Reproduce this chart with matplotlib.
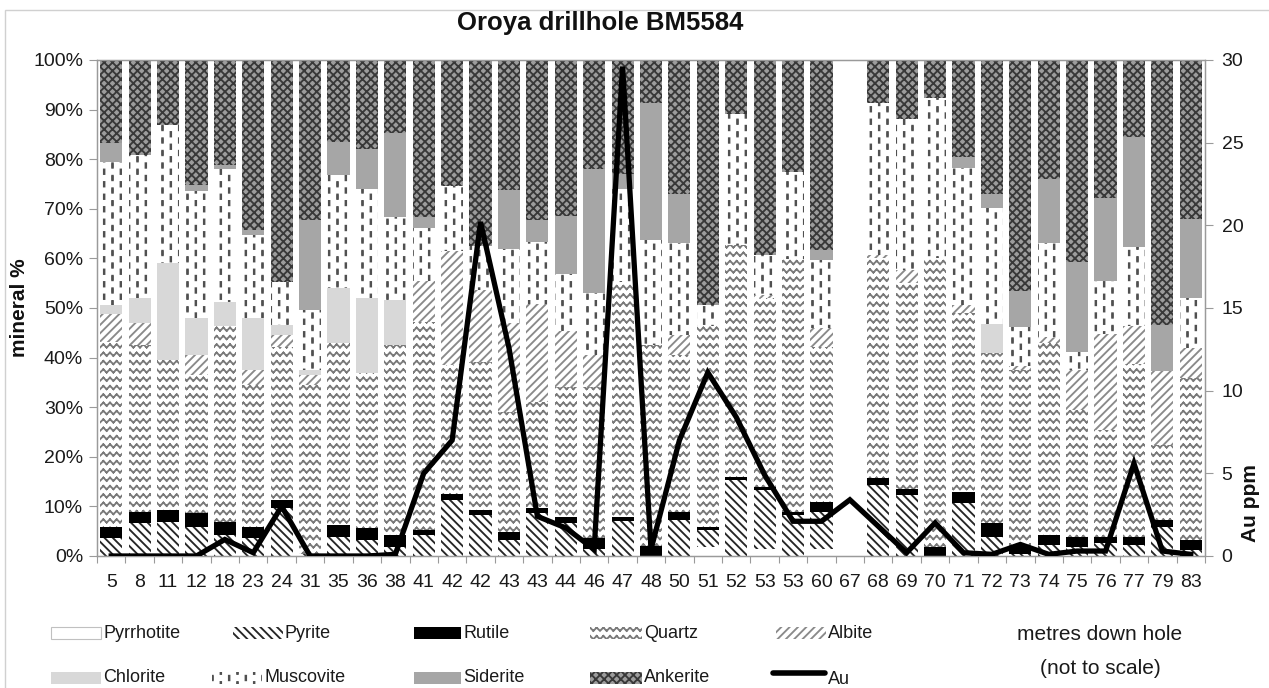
import warnings
warnings.filterwarnings("ignore")
import numpy as np
import matplotlib
matplotlib.use("Agg")
import matplotlib.pyplot as plt
from matplotlib.patches import Rectangle
from matplotlib.lines import Line2D
from matplotlib.path import Path
import matplotlib.hatch as mhatch

# ---------------- data ----------------
depths = ['5', '8', '11', '12', '18', '23', '24', '31', '35', '36', '38', '41', '42', '42',
          '43', '43', '44', '46', '47', '48', '50', '51', '52', '53', '53', '60', '67', '68',
          '69', '70', '71', '72', '73', '74', '75', '76', '77', '79', '83']

pyrrhotite = [0, 0, 0, 0, 0, 0, 0, 0, 0, 0, 0, 0, 0, 0,
              0, 0, 0, 0, 0, 0, 0, 1.9, 0, 1.5, 0, 1.5, 0, 0,
              0, 0, 0, 0, 0, 0, 0, 0, 0, 0, 0]
pyrite = [3.6, 6.6, 6.9, 5.9, 4.2, 3.6, 9.6, 0.5, 3.9, 3.2, 1.9, 4.2, 11.3, 8.3,
          3.2, 8.6, 6.6, 1.5, 7.1, 0, 7.3, 3.3, 15.3, 11.9, 8.3, 7.4, 0, 14.3,
          12.3, 0, 10.6, 3.9, 0.5, 2.2, 1.9, 2.6, 2.2, 5.9, 1.2]
rutile = [2.3, 2.3, 2.4, 2.7, 2.7, 2.3, 1.7, 0, 2.4, 2.4, 2.3, 1.0, 1.3, 1.0,
          1.7, 1.0, 1.3, 2.1, 0.8, 2.0, 1.6, 0.7, 0.7, 0.6, 0.6, 2.0, 0, 1.4,
          1.3, 1.9, 2.4, 2.7, 1.4, 2.0, 1.9, 1.3, 1.7, 1.4, 2.0]
quartz = [37.3, 33.6, 30.2, 27.9, 39.5, 28.6, 30.9, 34.0, 36.6, 31.2, 38.3, 42.0, 25.9, 29.9,
          24.2, 21.5, 26.1, 30.5, 47.4, 40.5, 31.6, 40.5, 46.7, 38.0, 50.9, 31.3, 0, 44.3,
          41.4, 58.1, 35.9, 34.4, 35.7, 38.7, 25.6, 21.5, 34.9, 15.1, 32.6]
albite = [5.5, 4.4, 0, 4.0, 0, 3.0, 2.4, 2.0, 0, 0, 0, 8.3, 22.9, 14.4,
          17.8, 19.7, 11.4, 6.4, 0, 0, 4.1, 0, 0, 0.6, 0, 3.7, 0, 0.7,
          2.7, 0, 1.7, 0, 0.7, 1.0, 8.0, 19.4, 7.6, 14.8, 6.1]
chlorite = [1.9, 5.2, 19.5, 7.4, 4.9, 10.4, 2.0, 1.0, 11.1, 15.2, 9.1, 0, 0, 0,
            0, 0, 0, 0, 0, 0, 0, 0, 0, 0, 0, 0, 0, 0,
            0, 0, 0, 5.8, 0, 0, 0, 0, 0, 0, 0]
muscovite = [28.9, 28.7, 27.9, 25.6, 26.7, 16.8, 8.7, 12.1, 22.8, 21.9, 16.8, 10.6, 13.1, 8.8,
             14.9, 12.6, 11.5, 12.6, 18.7, 21.2, 18.6, 4.2, 26.5, 8.1, 17.7, 13.8, 0, 30.6,
             30.5, 32.3, 27.6, 23.3, 7.8, 19.3, 3.8, 10.7, 15.8, 0, 10.1]
siderite = [3.7, 0, 0, 1.3, 0.8, 1.0, 0, 18.1, 6.7, 8.1, 16.8, 2.3, 0, 0,
            12.0, 4.3, 11.6, 24.9, 3.0, 27.6, 9.8, 0, 0, 0, 0, 2.0, 0, 0,
            0, 0, 2.2, 2.9, 7.4, 12.9, 18.1, 16.6, 22.2, 9.4, 15.9]
ankerite = [16.8, 19.2, 13.1, 25.2, 21.2, 34.3, 44.7, 32.3, 16.5, 18.0, 14.8, 31.6, 25.5, 37.6,
            26.2, 32.3, 31.5, 22.0, 23.0, 8.7, 27.0, 49.4, 10.8, 39.3, 22.5, 38.3, 0, 8.7,
            11.8, 7.7, 19.6, 27.0, 46.5, 23.9, 40.7, 27.9, 15.6, 53.4, 32.1]
au_ppm = [0, 0, 0, 0, 1.0, 0.2, 3.0, 0, 0, 0, 0.1, 5.0, 7.0, 20.2,
          12.6, 2.4, 1.7, 0.4, 29.6, 0.4, 7.0, 11.1, 8.4, 4.9, 2.1, 2.1, 3.4, 1.8,
          0.2, 2.0, 0.2, 0.1, 0.7, 0.1, 0.3, 0.3, 5.6, 0.3, 0.1]

minerals = ['Pyrrhotite', 'Pyrite', 'Rutile', 'Quartz', 'Albite',
            'Chlorite', 'Muscovite', 'Siderite', 'Ankerite']
series = [pyrrhotite, pyrite, rutile, quartz, albite, chlorite, muscovite, siderite, ankerite]


# ---------------- custom hatches (zigzag and short dashes) ----------------
class ZigZagHatch(mhatch.HatchPatternBase):
    def __init__(self, hatch, density):
        n = hatch.count('z')
        self.rows = 12 if n else 0
        self.segs = 30
        self.num_vertices = self.rows * self.segs * 2

    def set_vertices_and_codes(self, vertices, codes):
        amp = 0.032
        xs = np.linspace(0, 1, self.segs + 1)
        k = 0
        for r in range(self.rows):
            y0 = (r + 0.3) / self.rows
            for s in range(self.segs):
                ya = y0 + (amp if s % 2 else 0.0)
                yb = y0 + (0.0 if s % 2 else amp)
                vertices[k] = (xs[s], ya)
                vertices[k + 1] = (xs[s + 1], yb)
                codes[k] = Path.MOVETO
                codes[k + 1] = Path.LINETO
                k += 2


class DashHatch(mhatch.HatchPatternBase):
    def __init__(self, hatch, density):
        n = hatch.count('m')
        self.cols = 12 if n else 0
        self.rows = 8 if n else 0
        self.num_vertices = self.cols * self.rows * 5

    def set_vertices_and_codes(self, vertices, codes):
        w, h = 0.006, 0.045
        k = 0
        for c in range(self.cols):
            x = (c + 0.5) / self.cols
            off = 0.5 / self.rows if c % 2 else 0.0
            for r in range(self.rows):
                y = r / self.rows + off + 0.01
                pts = [(x - w / 2, y), (x + w / 2, y), (x + w / 2, y + h), (x - w / 2, y + h), (x - w / 2, y)]
                for j, p in enumerate(pts):
                    vertices[k + j] = p
                codes[k:k + 5] = [Path.MOVETO, Path.LINETO, Path.LINETO, Path.LINETO, Path.CLOSEPOLY]
                k += 5


custom_ok = True
try:
    mhatch._hatch_types.append(ZigZagHatch)
    mhatch._hatch_types.append(DashHatch)
except Exception:
    custom_ok = False

plt.rcParams['font.family'] = ['Liberation Sans', 'DejaVu Sans']
plt.rcParams['hatch.linewidth'] = 1.35

# style: (facecolor, hatch colour, hatch)
styles = {
    'Pyrrhotite': ('white', '#c0c0c0', None),
    'Pyrite': ('white', '#262626', '\\\\\\\\'),
    'Rutile': ('black', 'black', None),
    'Quartz': ('white', '#7a7a7a', 'z' if custom_ok else 'xx'),
    'Albite': ('white', '#8a8a8a', '////'),
    'Chlorite': ('#d8d8d8', '#d8d8d8', None),
    'Muscovite': ('white', '#505050', 'm' if custom_ok else '|'),
    'Siderite': ('#a6a6a6', '#a6a6a6', None),
    'Ankerite': ('#9c9c9c', '#383838', 'xxxx'),
}

W, H = 1269, 688
fig = plt.figure(figsize=(W / 100, H / 100), dpi=100)
fig.patch.set_facecolor('white')


def fx(x):
    return x / W


def fy(y):
    return 1 - y / H


ax = fig.add_axes([fx(97), fy(556), fx(1205) - fx(97), fy(60) - fy(556)])
x = np.arange(len(depths))
bottom = np.zeros(len(depths))
for name, vals in zip(minerals, series):
    fc, hc, ht = styles[name]
    v = np.array(vals, dtype=float)
    ax.bar(x, v, bottom=bottom, width=0.78, color=fc, edgecolor=hc, linewidth=0,
           hatch=ht, zorder=2)
    bottom += v

ax.set_xlim(-0.5, len(depths) - 0.5)
ax.set_ylim(0, 100)
ax.set_yticks(np.arange(0, 101, 10))
ax.set_yticklabels([f'{v}%' for v in range(0, 101, 10)])
ax.set_xticks(x)
ax.set_xticklabels(depths)
ax.set_xticks(np.arange(-0.5, len(depths), 1.0), minor=True)
ax.tick_params(axis='x', which='major', length=0, pad=13, labelsize=14, colors='#1a1a1a')
ax.tick_params(axis='x', which='minor', length=5, width=0.8, color='#9a9a9a', direction='out')
ax.tick_params(axis='y', which='major', length=6, width=0.8, color='#9a9a9a', labelsize=14,
               labelcolor='#1a1a1a', pad=4)
for s in ax.spines.values():
    s.set_color('#9a9a9a')
    s.set_linewidth(0.9)

ax2 = ax.twinx()
ax2.plot(x, au_ppm, color='black', lw=3.8, solid_joinstyle='miter', zorder=5)
ax2.set_ylim(0, 30)
ax2.set_yticks(np.arange(0, 31, 5))
ax2.tick_params(axis='y', length=6, width=0.8, color='#9a9a9a', labelsize=14,
                labelcolor='#1a1a1a', pad=6)
for s in ax2.spines.values():
    s.set_color('#9a9a9a')
    s.set_linewidth(0.9)

# titles / axis labels
fig.text(fx(600), fy(23), 'Oroya drillhole BM5584', ha='center', va='center',
         fontsize=18.5, fontweight='bold', color='#111111')
fig.text(fx(20), fy(308), 'mineral %', ha='center', va='center', rotation=90,
         fontsize=15, fontweight='bold', color='#111111')
fig.text(fx(1250), fy(503), 'Au ppm', ha='center', va='center', rotation=90,
         fontsize=15, fontweight='bold', color='#111111')

# chart border
fig.add_artist(Rectangle((fx(5), fy(H + 5)), fx(W + 10), fy(10) - fy(H + 5),
                         transform=fig.transFigure, fill=False, edgecolor='#d0d0d0', lw=1.0))

# legend (manual layout)
leg_pos = {
    'Pyrrhotite': (51, 633, 50), 'Pyrite': (233, 633, 50), 'Rutile': (414, 633, 47),
    'Quartz': (590, 633, 52), 'Albite': (776, 633, 50),
    'Chlorite': (51, 678, 50), 'Muscovite': (212, 678, 50), 'Siderite': (414, 678, 47),
    'Ankerite': (590, 678, 52),
}
for name in minerals:
    fc, hc, ht = styles[name]
    x0, yc, w = leg_pos[name]
    lw = 0.8 if name == 'Pyrrhotite' else 0
    r = Rectangle((fx(x0), fy(yc + 6)), fx(w), fy(yc - 6) - fy(yc + 6), transform=fig.transFigure,
                  facecolor=fc, edgecolor=hc, hatch=ht, linewidth=lw)
    fig.add_artist(r)
    fig.text(fx(x0 + w + 2), fy(yc), name, ha='left', va='center', fontsize=13, color='#1a1a1a')
fig.add_artist(Line2D([fx(773), fx(825)], [fy(673), fy(673)], transform=fig.transFigure,
                      color='black', lw=4, solid_capstyle='round'))
fig.text(fx(828), fy(679), 'Au', ha='left', va='center', fontsize=13, color='#1a1a1a')
fig.text(fx(1100), fy(634), 'metres down hole', ha='center', va='center', fontsize=15, color='#1a1a1a')
fig.text(fx(1100), fy(669), '(not to scale)', ha='center', va='center', fontsize=15, color='#1a1a1a')

fig.savefig('out.png', dpi=100)
